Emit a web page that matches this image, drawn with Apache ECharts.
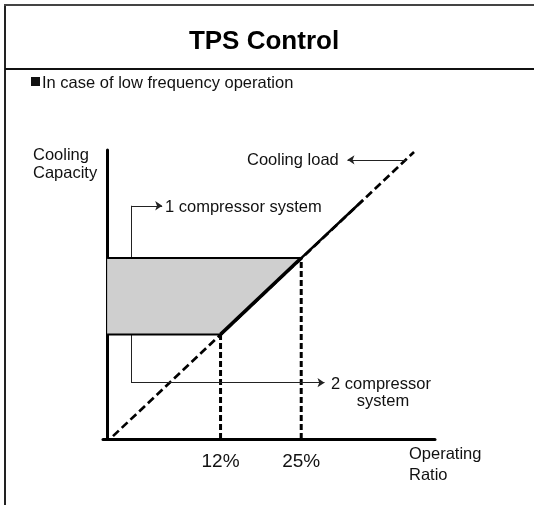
<!DOCTYPE html>
<html>
<head>
<meta charset="utf-8">
<script src="https://cdn.jsdelivr.net/npm/echarts@6/dist/echarts.min.js"></script>
<style>html,body{margin:0;padding:0;background:#fff}#c{width:534px;height:505px}</style>
</head>
<body>
<div id="c"></div>
<script>
// ---- data (schematic units) ----
const xTickValues = [34.6, 59.2];
const xTickLabels = ['12%', '25%'];
const coolingLoad = [[1.8, 1.0], [93.6, 99.3]];
const twoToOneStep = [[34.6, 36.2], [59.2, 62.6]];
const oneCompCapacity = [[59.2, 62.6], [78.0, 82.6]];
const savingZone = [[0, 62.6], [59.2, 62.6], [34.6, 36.2], [0, 36.2]];
const zoneTopEdge = [[0, 62.6], [59.2, 62.6]];
const zoneBottomEdge = [[0, 36.2], [34.6, 36.2]];
const guide12 = [[34.6, 0], [34.6, 36.2]];
const guide25 = [[59.2, 0], [59.2, 62.6]];
const oneCompLeader = [[7.3, 62.6], [7.3, 80.7]];
const oneCompArrow = [[7.3, 80.7], [16.8, 80.7]];
const twoCompLeader = [[7.3, 36.2], [7.3, 19.5]];
const twoCompArrow = [[7.3, 19.5], [66.3, 19.5]];
const loadArrow = [[91.1, 96.6], [73.3, 96.6]];

const FONT = 'Liberation Sans, Arial, sans-serif';
const chart = echarts.init(document.getElementById('c'), null, {renderer: 'canvas'});

function seg(coords, width, color, dash, arrow) {
  return {
    type: 'lines', coordinateSystem: 'cartesian2d', silent: true, z: 3,
    symbol: arrow ? ['none', 'arrow'] : ['none', 'none'],
    symbolSize: 7,
    lineStyle: {width: width, color: color, type: dash || 'solid', opacity: 1, curveness: 0},
    data: [{coords: coords}]
  };
}
function pl(data, width, dash, z) {
  return {
    type: 'line', data: data, showSymbol: false, symbol: 'none', silent: true, z: z || 4,
    lineStyle: {width: width, color: '#000', type: dash || 'solid', cap: 'butt'},
    animation: false
  };
}

const option = {
  animation: false,
  grid: {left: 103, right: 99, top: 150, bottom: 66},
  xAxis: {
    type: 'value', min: -1.25, max: 100,
    axisLine: {show: true, onZero: false, lineStyle: {color: '#000', width: 3}},
    axisTick: {show: false},
    splitLine: {show: false},
    axisLabel: {
      customValues: xTickValues,
      formatter: function (v) { const i = xTickValues.indexOf(v); return i >= 0 ? xTickLabels[i] : ''; },
      fontSize: 19, color: '#111', fontFamily: FONT, margin: 13
    }
  },
  yAxis: {
    type: 'value', min: 0, max: 100,
    axisLine: {show: true, onZero: true, lineStyle: {color: '#000', width: 3}},
    axisTick: {show: false}, axisLabel: {show: false}, splitLine: {show: false}
  },
  series: [
    {
      type: 'custom', silent: true, z: 1, data: [0],
      renderItem: function (params, api) {
        return {type: 'polygon', shape: {points: savingZone.map(p => api.coord(p))},
          style: {fill: '#cfcfcf'}};
      }
    },
    pl(coolingLoad, 2.7, [8, 4], 2),
    pl(guide12, 3, [6, 3], 2),
    pl(guide25, 3, [6, 3], 2),
    pl(zoneTopEdge, 2, null, 4),
    pl(zoneBottomEdge, 2, null, 4),
    pl(twoToOneStep, 3.5, null, 5),
    pl(oneCompCapacity, 2.5, null, 5),
    seg(oneCompLeader, 1, '#222'),
    seg(oneCompArrow, 1, '#222', null, true),
    seg(twoCompLeader, 1, '#222'),
    seg(twoCompArrow, 1, '#222', null, true),
    seg(loadArrow, 1, '#222', null, true)
  ],
  graphic: [
    {type: 'line', shape: {x1: 5, y1: 4, x2: 5, y2: 505}, style: {stroke: '#222', lineWidth: 2}},
    {type: 'line', shape: {x1: 4, y1: 5, x2: 534, y2: 5}, style: {stroke: '#444', lineWidth: 2}},
    {type: 'line', shape: {x1: 5, y1: 69, x2: 534, y2: 69}, style: {stroke: '#111', lineWidth: 2}},
    {type: 'text', x: 264, y: 42, style: {text: 'TPS Control', font: 'bold 26px ' + FONT, fill: '#000', textAlign: 'center', textVerticalAlign: 'middle'}},
    {type: 'rect', shape: {x: 31, y: 77, width: 9, height: 9}, style: {fill: '#111'}},
    {type: 'text', x: 42, y: 83, style: {text: 'In case of low frequency operation', font: '16.5px ' + FONT, fill: '#111', textVerticalAlign: 'middle'}},
    {type: 'text', x: 33, y: 155, style: {text: 'Cooling', font: '16.5px ' + FONT, fill: '#111', textVerticalAlign: 'middle'}},
    {type: 'text', x: 33, y: 173, style: {text: 'Capacity', font: '16.5px ' + FONT, fill: '#111', textVerticalAlign: 'middle'}},
    {type: 'text', x: 247, y: 160, style: {text: 'Cooling load', font: '16.5px ' + FONT, fill: '#111', textVerticalAlign: 'middle'}},
    {type: 'text', x: 165, y: 207, style: {text: '1 compressor system', font: '16.5px ' + FONT, fill: '#111', textVerticalAlign: 'middle'}},
    {type: 'text', x: 160, y: 284, style: {text: 'Saving', font: '16.5px ' + FONT, fill: '#111', textAlign: 'center', textVerticalAlign: 'middle'}},
    {type: 'text', x: 160, y: 301, style: {text: 'Zone', font: '16.5px ' + FONT, fill: '#111', textAlign: 'center', textVerticalAlign: 'middle'}},
    {type: 'text', x: 331, y: 384, style: {text: '2 compressor', font: '16.5px ' + FONT, fill: '#111', textVerticalAlign: 'middle'}},
    {type: 'text', x: 383, y: 401, style: {text: 'system', font: '16.5px ' + FONT, fill: '#111', textAlign: 'center', textVerticalAlign: 'middle'}},
    {type: 'text', x: 409, y: 454, style: {text: 'Operating', font: '16.5px ' + FONT, fill: '#111', textVerticalAlign: 'middle'}},
    {type: 'text', x: 409, y: 475, style: {text: 'Ratio', font: '16.5px ' + FONT, fill: '#111', textVerticalAlign: 'middle'}}
  ]
};
chart.setOption(option);
</script>
</body>
</html>
